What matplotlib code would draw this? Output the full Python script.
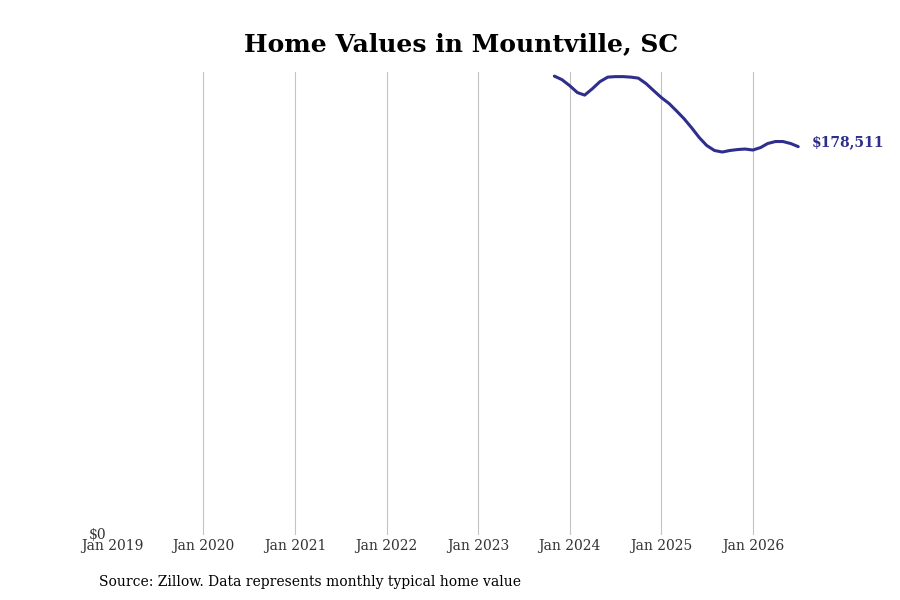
import matplotlib
matplotlib.use("Agg")
import matplotlib.pyplot as plt
import matplotlib.dates as mdates
import pandas as pd

# monthly typical home value, Nov 2023 .. Jul 2026
months = pd.date_range("2023-11-01", "2026-07-01", freq="MS")
values = [210910, 209300, 206550, 203340, 202190, 205170, 208390, 210450,
          210680, 210680, 210450, 209990, 207470, 204260, 201040, 198290,
          195080, 191400, 187270, 182680, 179010, 176720, 176030, 176720,
          177170, 177400, 176940, 178090, 179930, 180850, 180850, 179930,
          178511]
tick_years = list(range(2019, 2027))
ytick_vals = [0]
ytick_labels = [r"\$0"]

line_col = "#2e2f8c"
serif = ["DejaVu Serif"]

fig = plt.figure(figsize=(9, 6), dpi=100)
ax = fig.add_axes([112 / 900, 65 / 600, 694 / 900, 463 / 600])

ax.plot(months, values, color=line_col, lw=2.2, solid_capstyle="round")
ax.annotate(r"\$" + f"{values[-1]:,}", (months[-1], values[-1]),
            xytext=(10, 3), textcoords="offset points",
            color=line_col, fontsize=10, fontweight="bold", family=serif,
            va="center", ha="left")

ax.set_xlim(pd.Timestamp("2019-01-01"), pd.Timestamp("2026-08-01"))
ax.set_ylim(0, max(values) * 1.009)

ax.set_xticks([pd.Timestamp(f"{y}-01-01") for y in tick_years])
ax.xaxis.set_major_formatter(mdates.DateFormatter("Jan %Y"))
ax.set_yticks(ytick_vals)
ax.set_yticklabels(ytick_labels)
ax.tick_params(axis="both", length=0, labelsize=10, labelcolor="#333333")
ax.tick_params(axis="x", pad=3)
ax.tick_params(axis="y", pad=4)
for lab in ax.get_xticklabels() + ax.get_yticklabels():
    lab.set_family(serif)
for lab in ax.get_yticklabels():
    lab.set_verticalalignment("center")

# vertical gridlines at each January, except the left edge
for y in tick_years[1:]:
    ax.axvline(pd.Timestamp(f"{y}-01-01"), color="#c4c4c4", lw=0.8, zorder=0)
for s in ax.spines.values():
    s.set_visible(False)

fig.text(461 / 900, 1 - 44 / 600, "Home Values in Mountville, SC", ha="center", va="center",
         fontsize=18, fontweight="bold", family=serif)
fig.text(99 / 900, 1 - 582 / 600, "Source: Zillow. Data represents monthly typical home value",
         ha="left", va="center", fontsize=10, family=serif)

fig.savefig("out.png", dpi=100)
